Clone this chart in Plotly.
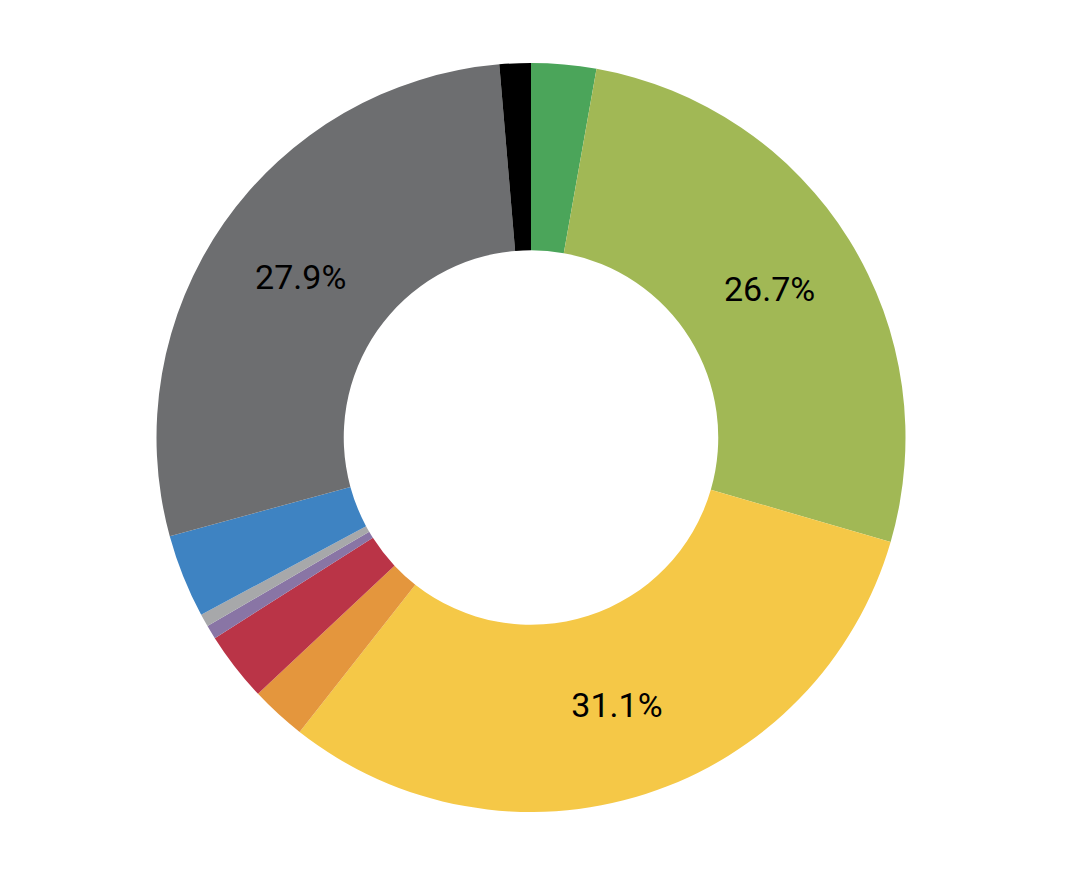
import plotly.graph_objects as go

# slices, clockwise from 12 o'clock
categorie = ['Verde', 'Verde oliva', 'Giallo', 'Arancione', 'Rosso',
             'Viola', 'Grigio chiaro', 'Blu', 'Grigio scuro', 'Nero']
valori = [2.8, 26.7, 31.1, 2.4, 3.0, 0.6, 0.55, 3.6, 27.9, 1.35]
colori = ['#4BA55A', '#A1B855', '#F5C847', '#E4963D', '#BA3447',
          '#8975A5', '#A7A8AA', '#3E83C2', '#6D6E70', '#000000']

# only the big slices get a label
etichette = [f'{v:.1f}%' if v > 10 else '' for v in valori]

fig = go.Figure(go.Pie(
    labels=categorie,
    values=valori,
    text=etichette,
    textinfo='text',
    textposition='inside',
    insidetextorientation='horizontal',
    textfont=dict(family='Roboto', size=34, color='black'),
    marker=dict(colors=colori, line=dict(width=0)),
    hole=0.5,
    sort=False,
    direction='clockwise',
    rotation=0,
    hoverinfo='label+percent',
))

# the page body adds 8px, so margins compensate for it
fig.update_layout(
    showlegend=False,
    paper_bgcolor='white',
    margin=dict(t=55, b=70, l=0, r=22),
    width=1068,
    height=874,
)

fig.write_html("out.html")
